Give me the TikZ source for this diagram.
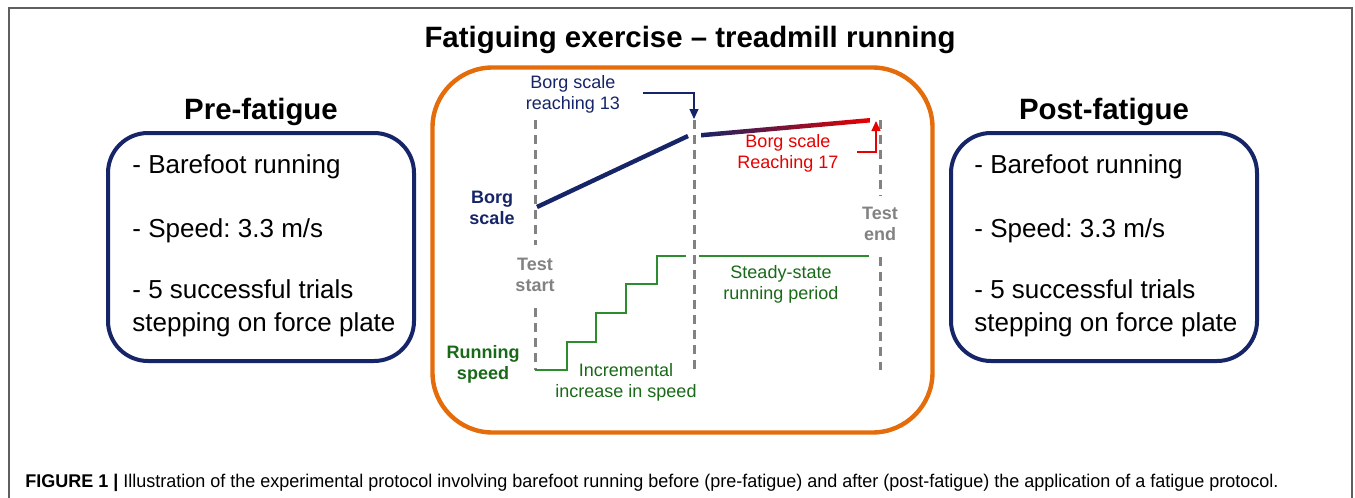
\documentclass[tikz,border=0pt]{standalone}
\usepackage{fontspec}
\usepackage{graphicx}
\setmainfont{Liberation Sans}
\usetikzlibrary{arrows.meta}
\frenchspacing
\definecolor{navy}{RGB}{22,36,104}
\definecolor{orng}{RGB}{228,108,10}
\definecolor{grn}{RGB}{45,140,45}
\definecolor{dgrn}{RGB}{25,105,25}
\definecolor{redc}{RGB}{232,0,0}
\definecolor{gry}{RGB}{130,130,130}
\definecolor{framec}{RGB}{95,95,95}
\tikzset{
  big/.style={font=\fontsize{14.7}{17}\selectfont\bfseries, inner sep=0pt},
  item/.style={font=\fontsize{13}{15.5}\selectfont, inner sep=0pt, align=left, anchor=base west},
  mid/.style={font=\fontsize{9}{10.5}\selectfont, inner sep=0pt, align=center},
  midb/.style={mid, font=\fontsize{9}{10.5}\selectfont\bfseries},
  sidebox/.style={draw=navy, line width=2pt, rounded corners=20pt, minimum width=153pt, minimum height=114pt, inner sep=0pt},
  vdash/.style={gry, line width=1.5pt, dash pattern=on 4.5pt off 3pt},
  thinarrow/.style={line width=0.6pt, -{Triangle[length=5pt,width=4.5pt]}},
}
\begin{document}
\begin{tikzpicture}[x=0.5pt,y=-0.5pt]
\useasboundingbox (0,0) rectangle (1355,498);
% outer frame
\draw[framec, line width=1pt] (9,498) -- (9,8) -- (1352,8) -- (1352,498);

% title
\node[big, anchor=base] (title) at (690,47) {Fatiguing exercise – treadmill running};

% pre-fatigue
\node[big, anchor=base] (pretitle) at (261,119) {Pre-fatigue};
\node[sidebox] (prebox) at (261,247) {};
\node[item] (pre1) at (132,173) {- Barefoot running};
\node[item] (pre2) at (132,237) {- Speed: 3.3 m/s};
\node[item] (pre3) at (132,298) {- 5 successful trials};
\node[item] (pre4) at (132,331) {stepping on force plate};

% post-fatigue
\node[big, anchor=base] (posttitle) at (1104,119) {Post-fatigue};
\node[sidebox] (postbox) at (1104,247) {};
\node[item] (post1) at (974,173) {- Barefoot running};
\node[item] (post2) at (974,237) {- Speed: 3.3 m/s};
\node[item] (post3) at (974,298) {- 5 successful trials};
\node[item] (post4) at (974,331) {stepping on force plate};

% fatiguing box
\node[draw=orng, line width=2.2pt, rounded corners=30pt, minimum width=250pt, minimum height=182.5pt, inner sep=0pt] (fatbox) at (682.5,250) {};

% dashed time lines
\coordinate (s1) at (535,120); \coordinate (s2) at (535,245);
\coordinate (s3) at (535,308); \coordinate (s4) at (535,370);
\coordinate (m1) at (694,120); \coordinate (m2) at (694,370);
\coordinate (e1) at (880,120); \coordinate (e2) at (880,196);
\coordinate (e3) at (880,257); \coordinate (e4) at (880,370);
\draw[vdash] (s1) -- (s2);
\draw[vdash] (s3) -- (s4);
\draw[vdash] (m1) -- (m2);
\draw[vdash] (e1) -- (e2);
\draw[vdash] (e3) -- (e4);

% Borg scale line
\coordinate (b0) at (537,207); \coordinate (b1) at (688,136);
\draw[navy, line width=2.2pt] (b0) -- (b1);
\shade[left color=navy, right color=redc] (701,133) -- (870,118) -- (870,122.5) -- (701,137.5) -- cycle;

% running speed steps
\coordinate (r0) at (535,370);
\coordinate (r1) at (686,256);
\draw[grn, line width=1.3pt] (r0) -- ++(32,0) |- ++(29,-28) |- ++(30,-29) |- ++(31,-29) |- ++(29,-28) -- (r1);
\coordinate (q0) at (699,256); \coordinate (q1) at (869,256);
\draw[grn, line width=1.3pt] (q0) -- (q1);

% labels
\node[mid, navy] (reach13) at (573,94) {Borg scale\\reaching 13};
\node[mid, redc] (reach17) at (788,153) {Borg scale\\Reaching 17};
\node[midb, navy] (borgl) at (492,208) {Borg\\scale};
\node[midb, gry] (tstart) at (535,275) {Test\\start};
\node[midb, gry] (tend) at (880,224) {Test\\end};
\node[midb, dgrn] (runspd) at (483,364) {Running\\speed};
\node[mid, dgrn] (incr) at (626,382) {Incremental\\increase in speed};
\node[mid, dgrn] (steady) at (781,284) {Steady-state\\running period};

% arrows
\coordinate (a13s) at (643,93); \coordinate (a13e) at (694,119);
\draw[navy, thinarrow] (a13s) -| (a13e);
\coordinate (a17s) at (857,152); \coordinate (a17e) at (876,121);
\draw[redc, thinarrow] (a17s) -| (a17e);

% caption
\node[inner sep=0pt, anchor=base west] (caption) at (25,487) {\resizebox{626.5pt}{\height}{\fontsize{9.2}{11}\selectfont\textbf{FIGURE 1 |} Illustration of the experimental protocol involving barefoot running before (pre-fatigue) and after (post-fatigue) the application of a fatigue protocol.}};
\end{tikzpicture}
\end{document}
